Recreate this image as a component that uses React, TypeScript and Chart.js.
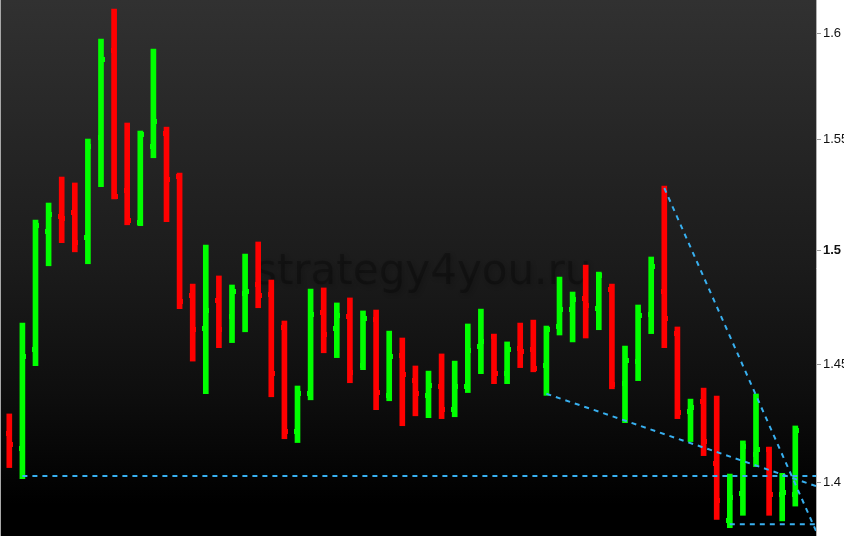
import React, { useEffect, useRef } from 'react';
import { Chart, registerables } from 'chart.js';

Chart.register(...registerables);

// ---- data ----
const opens = [
  1.4205, 1.4143, 1.4565, 1.5085, 1.5152, 1.5170, 1.5055, 1.5512, 1.5918, 1.5269,
  1.5125, 1.5470, 1.5530, 1.5333, 1.4800, 1.4656, 1.4779, 1.4708, 1.4809, 1.4849,
  1.4805, 1.4660, 1.4215, 1.4376, 1.4726, 1.4656, 1.4708, 1.4496, 1.4695, 1.4367,
  1.4539, 1.4431, 1.4367, 1.4406, 1.4308, 1.4406, 1.4578, 1.4621, 1.4461, 1.4569,
  1.4565, 1.4493, 1.4665, 1.4739, 1.4787, 1.4743, 1.4827, 1.4418, 1.4513, 1.4716,
  1.4818, 1.4634, 1.4300, 1.4342, 1.4077, 1.3843, 1.3956, 1.4115, 1.4136, 1.3948,
  1.3949,
];
const highs = [
  1.4288, 1.4679, 1.5135, 1.5212, 1.5330, 1.5303, 1.5504, 1.5972, 1.6115, 1.5578,
  1.5541, 1.5924, 1.5559, 1.5348, 1.4850, 1.5023, 1.4886, 1.4846, 1.4983, 1.5037,
  1.4868, 1.4688, 1.4407, 1.4828, 1.4833, 1.4767, 1.4789, 1.4732, 1.4736, 1.4644,
  1.4614, 1.4493, 1.4471, 1.4545, 1.4514, 1.4675, 1.4740, 1.4631, 1.4597, 1.4679,
  1.4692, 1.4666, 1.4881, 1.4815, 1.4934, 1.4903, 1.4850, 1.4579, 1.4758, 1.4970,
  1.5289, 1.4662, 1.4351, 1.4398, 1.4364, 1.4035, 1.4174, 1.4373, 1.4148, 1.4038,
  1.4237,
];
const lows = [
  1.4062, 1.4016, 1.4494, 1.4931, 1.5034, 1.4993, 1.4940, 1.5286, 1.5231, 1.5114,
  1.5110, 1.5418, 1.5128, 1.4742, 1.4514, 1.4374, 1.4572, 1.4594, 1.4641, 1.4746,
  1.4361, 1.4183, 1.4167, 1.4348, 1.4550, 1.4529, 1.4421, 1.4477, 1.4306, 1.4344,
  1.4238, 1.4280, 1.4272, 1.4268, 1.4276, 1.4379, 1.4460, 1.4417, 1.4417, 1.4486,
  1.4468, 1.4367, 1.4627, 1.4597, 1.4614, 1.4650, 1.4395, 1.4251, 1.4430, 1.4633,
  1.4572, 1.4268, 1.4171, 1.4112, 1.3847, 1.3813, 1.3864, 1.4066, 1.3864, 1.3841,
  1.3902,
];
const closes = [
  1.4159, 1.4535, 1.5112, 1.5161, 1.5143, 1.5035, 1.5470, 1.5875, 1.5242, 1.5134,
  1.5526, 1.5586, 1.5319, 1.4774, 1.4652, 1.4735, 1.4652, 1.4818, 1.4818, 1.4800,
  1.4461, 1.4215, 1.4376, 1.4717, 1.4630, 1.4713, 1.4466, 1.4700, 1.4380, 1.4535,
  1.4457, 1.4376, 1.4410, 1.4308, 1.4406, 1.4561, 1.4600, 1.4461, 1.4565, 1.4556,
  1.4483, 1.4652, 1.4739, 1.4783, 1.4757, 1.4888, 1.4415, 1.4517, 1.4711, 1.4929,
  1.4700, 1.4295, 1.4317, 1.4173, 1.3927, 1.3936, 1.4152, 1.4136, 1.3949, 1.3957,
  1.4217,
];

const tickValues = [1.4, 1.45, 1.5, 1.55, 1.6];
const tickLabels = ['1.4', '1.45', '1.5', '1.55', '1.6'];
const boldTick = 1.5;

const yMin = 1.3779;
const yMax = 1.6158;
const xMin = -0.71;
const xMax = 61.58;

// trend lines (bar index, price)
const supportLine = [{ x: 1, y: 1.4027 }, { x: xMax, y: 1.4027 }];
const lowerLine = [{ x: 55, y: 1.3827 }, { x: xMax, y: 1.3827 }];
const fallingLine = [{ x: 41, y: 1.4374 }, { x: xMax, y: 1.3985 }];
const steepLine = [{ x: 50, y: 1.528 }, { x: xMax, y: 1.38 }];

const watermark = 'strategy4you.ru';

const UP = '#00ff00';
const DOWN = '#ff0000';
const LINE = '#38b0f0';

function makeTick(color: string, side: 'left' | 'right') {
  const c = document.createElement('canvas');
  c.width = 7;
  c.height = 5;
  const g = c.getContext('2d')!;
  g.fillStyle = color;
  if (side === 'left') g.fillRect(0, 0, 4, 5);
  else g.fillRect(3, 0, 4, 5);
  return c;
}

export default function App() {
  const ref = useRef<HTMLCanvasElement | null>(null);

  useEffect(() => {
    if (!ref.current) return;
    const idx = opens.map((_, i) => i);
    const colors = idx.map((i) => (closes[i] >= opens[i] ? UP : DOWN));
    const openImgs = { up: makeTick(UP, 'left'), down: makeTick(DOWN, 'left') };
    const closeImgs = { up: makeTick(UP, 'right'), down: makeTick(DOWN, 'right') };
    const isUp = (i: number) => closes[i] >= opens[i];

    const bgPlugin = {
      id: 'bg',
      beforeDraw(chart: any) {
        const { ctx, chartArea } = chart;
        const { left, top, right, bottom } = chartArea;
        ctx.save();
        const gr = ctx.createLinearGradient(0, top, 0, bottom);
        gr.addColorStop(0, 'rgb(49,49,49)');
        gr.addColorStop(0.25, 'rgb(38,38,38)');
        gr.addColorStop(0.5, 'rgb(27,27,27)');
        gr.addColorStop(0.75, 'rgb(13,13,13)');
        gr.addColorStop(0.94, 'rgb(0,0,0)');
        gr.addColorStop(1, 'rgb(0,0,0)');
        ctx.fillStyle = gr;
        ctx.fillRect(left, top, right - left, bottom - top);
        ctx.fillStyle = '#a8a8a8';
        ctx.fillRect(left, top, 1, bottom - top);
        ctx.restore();
      },
      beforeDatasetsDraw(chart: any) {
        const { ctx } = chart;
        ctx.save();
        ctx.font = '42px "DejaVu Sans", sans-serif';
        ctx.textBaseline = 'alphabetic';
        ctx.shadowColor = 'rgba(0,0,0,0.6)';
        ctx.shadowBlur = 4;
        ctx.shadowOffsetX = 2;
        ctx.shadowOffsetY = 2;
        ctx.fillStyle = 'rgba(0,0,0,0.28)';
        ctx.fillText(watermark, 255, 284);
        ctx.restore();
      },
    };

    const lineDs = (data: any[]) => ({
      type: 'line' as const,
      data,
      borderColor: LINE,
      borderWidth: 2,
      borderDash: [5, 5],
      pointRadius: 0,
      fill: false,
      order: 0,
    });

    const chart = new Chart(ref.current, {
      type: 'bar',
      data: {
        datasets: [
          lineDs(supportLine),
          lineDs(lowerLine),
          lineDs(fallingLine),
          lineDs(steepLine),
          {
            type: 'scatter' as const,
            data: idx.map((i) => ({ x: i, y: opens[i] })),
            pointStyle: (c: any) => (isUp(c.dataIndex) ? openImgs.up : openImgs.down),
            pointRadius: 3,
            order: 1,
          } as any,
          {
            type: 'scatter' as const,
            data: idx.map((i) => ({ x: i, y: closes[i] })),
            pointStyle: (c: any) => (isUp(c.dataIndex) ? closeImgs.up : closeImgs.down),
            pointRadius: 3,
            order: 1,
          } as any,
          {
            type: 'bar' as const,
            data: idx.map((i) => ({ x: i, y: [lows[i], highs[i]] })),
            backgroundColor: colors,
            borderWidth: 0,
            borderSkipped: false,
            barThickness: 5,
            grouped: false,
            order: 2,
          } as any,
        ],
      },
      options: {
        responsive: false,
        animation: false,
        devicePixelRatio: 1,
        events: [],
        layout: { padding: 0, autoPadding: false },
        plugins: { legend: { display: false }, tooltip: { enabled: false } },
        scales: {
          x: {
            type: 'linear',
            min: xMin,
            max: xMax,
            display: false,
            offset: false,
          },
          y: {
            type: 'logarithmic',
            position: 'right',
            min: yMin,
            max: yMax,
            afterBuildTicks: (scale: any) => {
              scale.ticks = tickValues.map((v) => ({ value: v }));
            },
            afterFit: (scale: any) => {
              scale.width = 28;
              scale.paddingTop = 0;
              scale.paddingBottom = 0;
            },
            grid: {
              drawOnChartArea: false,
              drawTicks: true,
              tickLength: 5,
              tickColor: '#999999',
            },
            border: { display: true, color: '#b0b0b0', width: 1 },
            ticks: {
              padding: 2,
              color: '#111111',
              autoSkip: false,
              callback: (_v: any, i: number) => tickLabels[i],
              font: (c: any) => ({
                family: '"Liberation Sans", Arial, sans-serif',
                size: 13,
                weight: c.tick && c.tick.value === boldTick ? 'bold' : 'normal',
              }),
            },
          },
        },
      } as any,
      plugins: [bgPlugin],
    });
    return () => chart.destroy();
  }, []);

  return (
    <div style={{ position: 'fixed', left: 0, top: 0, width: 844, height: 536, background: '#fff' }}>
      <canvas ref={ref} width={844} height={536} style={{ display: 'block' }} />
    </div>
  );
}
